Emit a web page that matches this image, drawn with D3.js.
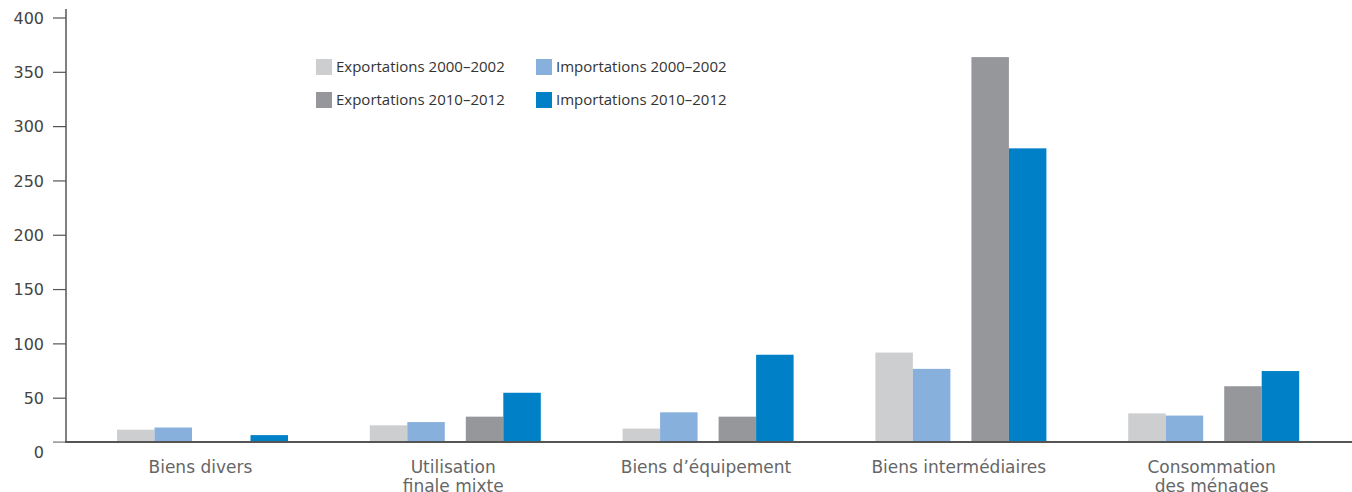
<!DOCTYPE html>
<html>
<head>
<meta charset="utf-8">
<script src="https://cdn.jsdelivr.net/npm/d3@7"></script>
<style>
	body { margin: 0; background: #fff; }
	svg { display: block; }
	.tick-label { font-family: 'DejaVu Sans', sans-serif; font-size: 16px; fill: #444; }
	.cat-label { font-family: 'DejaVu Sans', sans-serif; font-size: 17px; fill: #666; }
	.legend-text { font-family: 'Open Sans', 'Noto Sans', sans-serif; font-size: 15px; fill: #333; }
</style>
</head>
<body>
<svg id="chart"></svg>
<script>
// categories (second line of label after the '|')
const categories = [
	'Biens divers',
	'Utilisation|finale mixte',
	'Biens d\u2019équipement',
	'Biens intermédiaires',
	'Consommation|des ménages',
];
const periods = ['2000\u20132002', '2010\u20132012'];
const flows = ['Exportations', 'Importations'];

const exports2000 = [21, 25, 22, 92, 36];
const imports2000 = [23, 28, 37, 77, 34];
const exports2010 = [6, 33, 33, 364, 61];
const imports2010 = [16, 55, 90, 280, 75];

const yTicks = [0, 50, 100, 150, 200, 250, 300, 350, 400];
// the drawn baseline sits a little above the zero of the scale
const baseValue = 9.6;

const colors = {
	'Exportations 2000\u20132002': '#cdcecf',
	'Importations 2000\u20132002': '#87b0dd',
	'Exportations 2010\u20132012': '#96979b',
	'Importations 2010\u20132012': '#0080c6',
};

const width = 1352;
const height = 492;

const svg = d3.select('#chart').attr('width', width).attr('height', height);

const y = d3.scaleLinear().domain([0, 400]).range([452.5, 18]);
const x0 = d3.scaleBand().domain(categories).range([76, 1340]);
const xPeriod = d3.scaleBand().domain(periods).range([41, 212]).paddingInner(0.219);
const xFlow = d3.scaleBand().domain(flows).range([0, xPeriod.bandwidth()]);

const rows = [];
categories.forEach((c, i) => {
	rows.push({ cat: c, period: periods[0], flow: flows[0], value: exports2000[i] });
	rows.push({ cat: c, period: periods[0], flow: flows[1], value: imports2000[i] });
	rows.push({ cat: c, period: periods[1], flow: flows[0], value: exports2010[i] });
	rows.push({ cat: c, period: periods[1], flow: flows[1], value: imports2010[i] });
});

const baseY = y(baseValue);

// bars
svg.append('g')
	.selectAll('rect')
	.data(rows.filter((d) => d.value > baseValue))
	.join('rect')
	.attr('x', (d) => x0(d.cat) + xPeriod(d.period) + xFlow(d.flow))
	.attr('width', xFlow.bandwidth())
	.attr('y', (d) => y(d.value))
	.attr('height', (d) => baseY - y(d.value))
	.attr('fill', (d) => colors[d.flow + ' ' + d.period]);

// y axis
const axisX = 66;
const yAxis = svg.append('g');
yAxis.append('line')
	.attr('x1', axisX).attr('x2', axisX)
	.attr('y1', 9).attr('y2', baseY)
	.attr('stroke', '#808080').attr('stroke-width', 2);

yAxis.selectAll('.tick')
	.data(yTicks.filter((t) => t > 0))
	.join('line')
	.attr('x1', 53).attr('x2', axisX)
	.attr('y1', (d) => y(d)).attr('y2', (d) => y(d))
	.attr('stroke', '#555').attr('stroke-width', 1.2);

yAxis.append('line')
	.attr('x1', 53).attr('x2', axisX)
	.attr('y1', baseY).attr('y2', baseY)
	.attr('stroke', '#777').attr('stroke-width', 1.2);

yAxis.selectAll('text')
	.data(yTicks)
	.join('text')
	.attr('class', 'tick-label')
	.attr('x', 44)
	.attr('y', (d) => y(d))
	.attr('dy', '0.36em')
	.attr('text-anchor', 'end')
	.text((d) => d);

// baseline
svg.append('line')
	.attr('x1', axisX - 1).attr('x2', width)
	.attr('y1', baseY).attr('y2', baseY)
	.attr('stroke', '#555').attr('stroke-width', 2);

// category labels
const catLabels = svg.append('g')
	.selectAll('text')
	.data(categories)
	.join('text')
	.attr('class', 'cat-label')
	.attr('text-anchor', 'middle')
	.attr('x', (d) => x0(d) + x0.bandwidth() / 2 - 2)
	.attr('y', 473);

catLabels.selectAll('tspan')
	.data((d) => d.split('|'))
	.join('tspan')
	.attr('x', function () { return d3.select(this.parentNode).attr('x'); })
	.attr('dy', (d, i) => (i === 0 ? 0 : 19))
	.text((d) => d);

// legend
const legendItems = [
	{ key: 'Exportations 2000\u20132002', col: 0, row: 0 },
	{ key: 'Importations 2000\u20132002', col: 1, row: 0 },
	{ key: 'Exportations 2010\u20132012', col: 0, row: 1 },
	{ key: 'Importations 2010\u20132012', col: 1, row: 1 },
];

const legend = svg.append('g').attr('transform', 'translate(316,59)');
const li = legend.selectAll('g')
	.data(legendItems)
	.join('g')
	.attr('transform', (d) => `translate(${d.col * 220},${d.row * 33})`);

li.append('rect')
	.attr('width', 16).attr('height', 16)
	.attr('fill', (d) => colors[d.key]);

li.append('text')
	.attr('class', 'legend-text')
	.attr('x', 20)
	.attr('y', 8)
	.attr('dy', '0.36em')
	.text((d) => d.key);
</script>
</body>
</html>
